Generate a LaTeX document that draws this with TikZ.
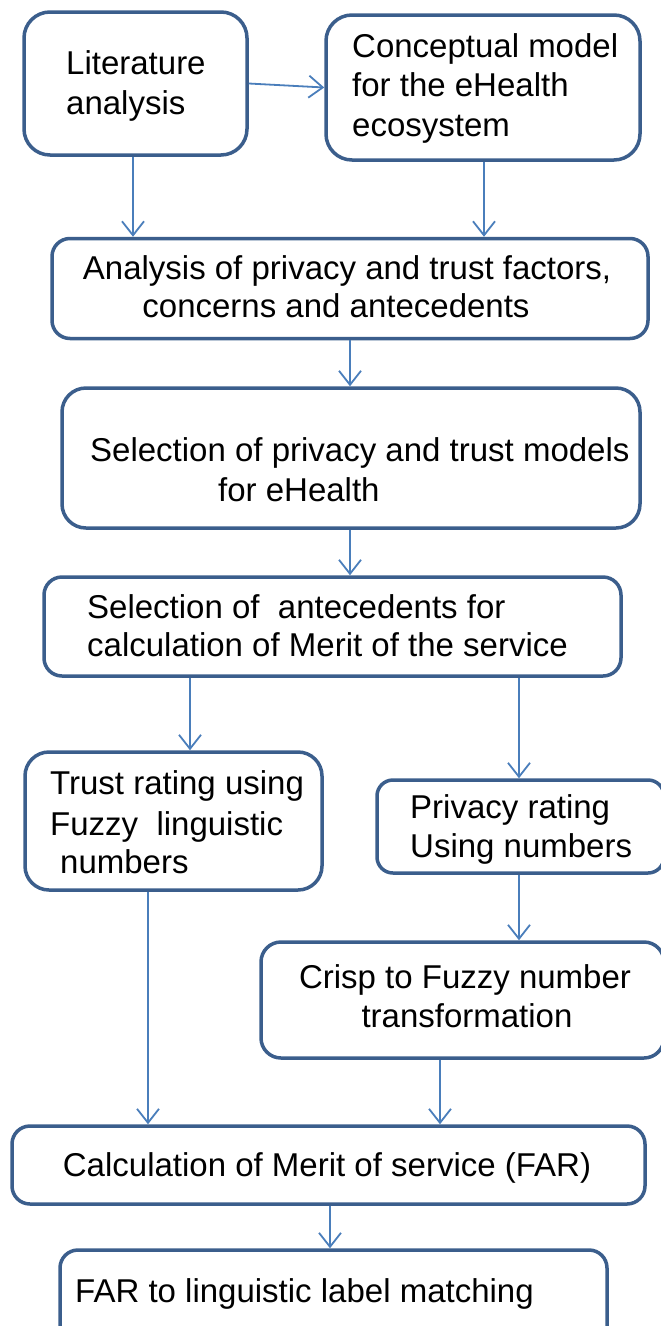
\documentclass[tikz,border=0pt]{standalone}
\usepackage{fontspec}
\setmainfont{Liberation Sans}
\usetikzlibrary{arrows.meta}
\definecolor{boxline}{HTML}{3B5E8C}
\definecolor{arrline}{HTML}{4A7EBB}
\begin{document}
\begin{tikzpicture}[x=1pt,y=-1pt,
  box/.style={draw=boxline, line width=3.5pt, inner sep=0pt, rectangle},
  txt/.style={inner sep=0pt, anchor=base west, font=\fontsize{33}{39}\selectfont},
  ctxt/.style={txt, anchor=base},
  arr/.style={draw=arrline, line width=1.8pt, -{Straight Barb[length=14pt,width=22pt,line width=1.8pt]}}
]
\clip (0,0) rectangle (661,1326);
\fill[white] (0,0) rectangle (661,1326);
% boxes
\node[box, rounded corners=26pt, minimum width=223pt, minimum height=143pt] (b1) at (135.5,83.5) {};
\node[box, rounded corners=26pt, minimum width=314pt, minimum height=145pt] (b2) at (483,87.5) {};
\node[box, rounded corners=18pt, minimum width=596pt, minimum height=100pt] (b3) at (350,288.5) {};
\node[box, rounded corners=24pt, minimum width=578pt, minimum height=140pt] (b4) at (351,458) {};
\node[box, rounded corners=18pt, minimum width=577pt, minimum height=99pt] (b5) at (332.5,626.5) {};
\node[box, rounded corners=24pt, minimum width=297pt, minimum height=138pt] (b6) at (173.5,821) {};
\node[box, rounded corners=16pt, minimum width=287pt, minimum height=93pt] (b7) at (520.5,826.5) {};
\node[box, rounded corners=20pt, minimum width=403pt, minimum height=116pt] (b8) at (462.5,1000) {};
\node[box, rounded corners=18pt, minimum width=633pt, minimum height=78pt] (b9) at (328.5,1165) {};
\node[box, rounded corners=18pt, minimum width=547pt, minimum height=110pt] (b10) at (333.5,1305) {};
% texts
\node[txt] (t1a) at (66,74) {Literature};
\node[txt] (t1b) at (66,114) {analysis};
\node[txt] (t2a) at (352,57) {Conceptual model};
\node[txt] (t2b) at (352,96) {for the eHealth};
\node[txt] (t2c) at (352,136) {ecosystem};
\node[ctxt] (t3a) at (347,279) {Analysis of privacy and trust factors,};
\node[ctxt] (t3b) at (336,317) {concerns and antecedents};
\node[txt] (t4a) at (90,461) {Selection of privacy and trust models};
\node[txt] (t4b) at (218,501) {for eHealth};
\node[txt] (t5a) at (87,618) {Selection of~~antecedents for};
\node[txt] (t5b) at (87,656) {calculation of Merit of the service};
\node[txt] (t6a) at (50,794) {Trust rating using};
\node[txt] (t6b) at (50,835) {Fuzzy~~linguistic};
\node[txt] (t6c) at (60,873) {numbers};
\node[txt] (t7a) at (410,818) {Privacy rating};
\node[txt] (t7b) at (410,857) {Using numbers};
\node[ctxt] (t8a) at (465,988) {Crisp to Fuzzy number};
\node[ctxt] (t8b) at (467,1027) {transformation};
\node[ctxt] (t9) at (327,1176) {Calculation of Merit of service (FAR)};
\node[txt] (t10) at (75,1302) {FAR to linguistic label matching};
% arrows
\draw[arr] (b1.east) -- (b2.west);
\draw[arr] ([xshift=-2.5pt]b1.south) -- ([xshift=-2.5pt]b1.south |- b3.north);
\draw[arr] ([xshift=1pt]b2.south) -- ([xshift=1pt]b2.south |- b3.north);
\draw[arr] (b3.south) -- (b3.south |- b4.north);
\draw[arr] ([xshift=-1pt]b4.south) -- ([xshift=-1pt]b4.south |- b5.north);
\draw[arr] ([xshift=16.5pt]b6.north |- b5.south) -- ([xshift=16.5pt]b6.north);
\draw[arr] ([xshift=-1.5pt]b7.north |- b5.south) -- ([xshift=-1.5pt]b7.north);
\draw[arr] ([xshift=-1.5pt]b7.south) -- ([xshift=-1.5pt]b7.south |- b8.north);
\draw[arr] ([xshift=-25.5pt]b6.south) -- ([xshift=-25.5pt]b6.south |- b9.north);
\draw[arr] ([xshift=-22.5pt]b8.south) -- ([xshift=-22.5pt]b8.south |- b9.north);
\draw[arr] ([xshift=1.5pt]b9.south) -- ([xshift=1.5pt]b9.south |- b10.north);
\end{tikzpicture}
\end{document}
